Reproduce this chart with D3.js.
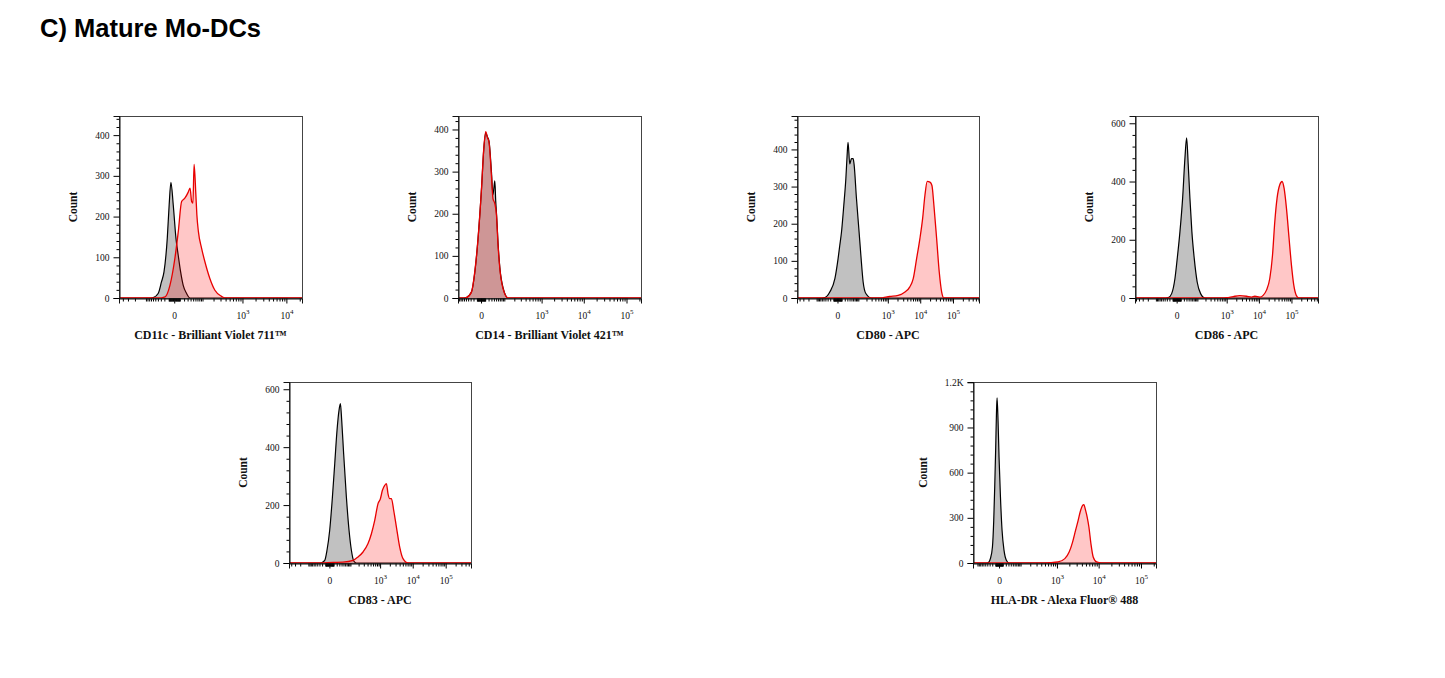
<!DOCTYPE html>
<html>
<head>
<meta charset="utf-8">
<script src="https://cdn.jsdelivr.net/npm/d3@7"></script>
<style>
  body { margin: 0; background: #fff; }
  svg { display: block; }
  text { font-family: "Liberation Serif", "DejaVu Serif", serif; fill: #111; }
</style>
</head>
<body>
<svg id="chart" width="1445" height="678"></svg>
<script>
// Histograms: [fluorescence, count]
// grey = unstained / isotype control, red = stained
const cd11cControl = [[-70,0],[-59,1],[-39,11],[-28,40],[-21,64],[-13,147],[-9,229],[-5.6,284],[-1.6,229],[2.8,147],[6.9,105],[11.8,64],[17.8,31],[27,11],[38,0]];
const cd11cStained = [[-40,0],[-18,3],[-7.5,31],[1,97],[7,163],[14,237],[22,245],[32,260],[38,270],[44,237],[49,233],[54,328],[62,254],[67,204],[75,163],[94,122],[117,89],[160,48],[217,19],[318,4],[383,0]];

const cd14Control = [[-60,0],[-48,1],[-27,14],[-16,60],[-7,140],[1,258],[6.3,352],[11.5,392],[16.5,382],[21.5,372],[30,300],[36,245],[40,262],[44,278],[48,232],[52,200],[60,130],[70,72],[91,24],[132,0]];
const cd14Stained = [[-60,0],[-48,1],[-27,14],[-16,62],[-7,141],[1,259],[6.3,354],[11.5,395],[16.5,381],[21.5,370],[30,291],[36,236],[44,224],[52,196],[60,125],[70,70],[91,22],[132,0]];

const cd80Control = [[-60,0],[-43,1],[-21.5,16],[-6,52],[1.3,106],[5.3,142],[9.7,177],[16.7,249],[24,321],[29,384],[33,419],[41,361],[50,375],[60,375],[66,361],[84,267],[107,177],[125,115],[152,43],[190,12],[298,0]];
const cd80Stained = [[600,0],[711,1],[1150,4],[2100,7],[3400,16],[4800,30],[6100,52],[7750,106],[9770,160],[11800,213],[13900,276],[16400,314],[19800,312],[22800,303],[26200,249],[31700,160],[38100,70],[45200,16],[53000,0]];

const cd86Control = [[-35,0],[-24,1],[-12.7,15],[-3.8,67],[1.3,136],[7.9,228],[15.8,343],[23.9,481],[30.7,550],[38,458],[46.6,343],[58,228],[74,136],[98,55],[133,15],[191,0]];
const cd86Stained = [[700,0],[990,1],[1600,5],[2580,8],[4160,6],[5930,3],[7490,6],[10700,3],[13500,9],[17100,27],[21600,67],[26200,147],[30800,262],[36200,343],[43800,389],[51500,400],[59400,377],[70300,308],[84500,205],[100000,113],[118000,44],[142000,8],[168000,0]];

const cd83Control = [[-32,0],[-22,1],[-11.6,9],[-5.5,44],[0.6,113],[7,228],[13.5,343],[21,458],[28.6,527],[34.6,550],[40.8,492],[51,377],[68,228],[88,113],[109,44],[134,7],[167,0]];
const cd83Stained = [[-29,0],[8.6,2],[47,3],[126,9],[191,21],[283,38],[414,67],[532,101],[678,147],[861,205],[1023,222],[1182,251],[1392,268],[1569,274],[1761,239],[1983,222],[2241,222],[2631,182],[3186,124],[4017,55],[5064,15],[7200,0]];

const hladrControl = [[-45,0],[-37,1],[-27,29],[-19.4,106],[-15,283],[-11.9,504],[-8.9,769],[-6.8,991],[-5.1,1097],[-2.5,946],[0,703],[3.6,438],[8,217],[14,84],[22,18],[32,0]];
const hladrStained = [[366,0],[663,2],[1067,7],[1557,29],[1980,73],[2394,139],[2822,217],[3258,283],[3722,349],[4154,383],[4455,388],[4900,349],[5342,305],[5873,239],[6552,129],[7425,40],[8933,7],[11760,0]];

const axisTitles = [
  "CD11c - Brilliant Violet 711™",
  "CD14 - Brilliant Violet 421™",
  "CD80 - APC",
  "CD86 - APC",
  "CD83 - APC",
  "HLA-DR - Alexa Fluor® 488"
];
const yTickSteps = [100, 100, 100, 200, 200, 300];
const xLabelValues = [0, 1e3, 1e4, 1e5];

// layout of each panel (frame box, scale settings)
const layout = [
  { l: 119, r: 302, t: 116, b: 298, yMax: 447, c: 30, xDom: [-495, 22500], countGap: 42 },
  { l: 458, r: 641, t: 116, b: 298, yMax: 432, c: 40, xDom: [-98, 218000], countGap: 42 },
  { l: 797, r: 979, t: 116, b: 298, yMax: 490, c: 30, xDom: [-485, 622000], countGap: 42 },
  { l: 1135, r: 1318, t: 116, b: 298, yMax: 625, c: 30, xDom: [-539, 653000], countGap: 42 },
  { l: 289, r: 471, t: 382, b: 563, yMax: 625, c: 30, xDom: [-473, 585000], countGap: 42 },
  { l: 973, r: 1156, t: 382, b: 563, yMax: 1202, c: 45, xDom: [-140, 226000], countGap: 46 }
];

const series = [
  [cd11cControl, cd11cStained],
  [cd14Control, cd14Stained],
  [cd80Control, cd80Stained],
  [cd86Control, cd86Stained],
  [cd83Control, cd83Stained],
  [hladrControl, hladrStained]
];

const svg = d3.select("#chart");

svg.append("text")
  .attr("x", 40)
  .attr("y", 37)
  .style("font-family", "'Liberation Sans', Arial, sans-serif")
  .style("font-weight", "bold")
  .style("font-size", "25.5px")
  .style("fill", "#000")
  .text("C) Mature Mo-DCs");

layout.forEach((p, i) => {
  const g = svg.append("g");
  const x = d3.scaleSymlog().constant(p.c).domain(p.xDom).range([p.l, p.r]);
  const y = d3.scaleLinear().domain([0, p.yMax]).range([p.b, p.t]);

  g.append("clipPath").attr("id", "clip" + i)
    .append("rect")
    .attr("x", p.l).attr("y", p.t)
    .attr("width", p.r - p.l).attr("height", p.b - p.t + 1);

  const plot = g.append("g").attr("clip-path", `url(#clip${i})`);

  // pad each histogram with zero counts out to the axis ends
  const full = s => [[p.xDom[0], 0], ...s, [p.xDom[1], 0]];

  const area = d3.area()
    .x(d => x(d[0]))
    .y0(y(0))
    .y1(d => y(d[1]))
    .curve(d3.curveMonotoneX);
  const line = d3.line()
    .x(d => x(d[0]))
    .y(d => y(d[1]))
    .curve(d3.curveMonotoneX);

  const [ctrl, stain] = series[i];

  plot.append("path").datum(full(ctrl))
    .attr("d", area).attr("fill", "rgba(100,100,100,0.4)");
  plot.append("path").datum(full(ctrl))
    .attr("d", line).attr("fill", "none").attr("stroke", "#000").attr("stroke-width", 1.2);
  plot.append("path").datum(full(stain))
    .attr("d", area).attr("fill", "rgba(255,0,0,0.22)");
  plot.append("path").datum(full(stain))
    .attr("d", line).attr("fill", "none").attr("stroke", "#e80000").attr("stroke-width", 1.3);

  // frame
  g.append("rect")
    .attr("x", p.l + 0.5).attr("y", p.t + 0.5)
    .attr("width", p.r - p.l).attr("height", p.b - p.t)
    .attr("fill", "none").attr("stroke", "#444").attr("stroke-width", 1);

  // y axis
  const step = yTickSteps[i];
  const yMajor = d3.range(0, p.yMax + 1, step);
  const yMinor = d3.range(0, p.yMax + 1, step / 5).filter(v => v % step !== 0);
  g.append("g").attr("transform", `translate(${p.l + 0.5},0)`)
    .call(d3.axisLeft(y).tickValues(yMinor).tickSize(3).tickFormat(""))
    .call(a => a.select(".domain").remove());
  g.append("g").attr("transform", `translate(${p.l + 0.5},0)`)
    .call(d3.axisLeft(y).tickValues(yMajor).tickSize(6).tickPadding(4)
      .tickFormat(v => v >= 1000 ? (v / 1000) + "K" : v))
    .call(a => a.select(".domain").attr("stroke", "#111"))
    .call(a => a.selectAll("text").style("font-size", "9.5px").style("fill", "#111")
      .style("font-family", "'Liberation Serif', serif"));

  // x axis (biexponential-like)
  const minor = [];
  for (let k = 0; k <= 6; k++) {
    for (let m = 1; m <= 9; m++) {
      minor.push(m * Math.pow(10, k), -m * Math.pow(10, k));
    }
  }
  const xMinor = minor.filter(v => v > p.xDom[0] && v < p.xDom[1] && !xLabelValues.includes(v));
  const xMajor = xLabelValues.filter(v => v >= p.xDom[0] && v <= p.xDom[1]);

  g.append("g").attr("transform", `translate(0,${p.b + 0.5})`)
    .call(d3.axisBottom(x).tickValues(xMinor).tickSize(3).tickFormat(""))
    .call(a => a.select(".domain").remove());
  g.append("g").attr("transform", `translate(0,${p.b + 0.5})`)
    .call(d3.axisBottom(x).tickValues(xMajor).tickSize(5).tickFormat(""))
    .call(a => a.select(".domain").attr("stroke", "#111"))
    .call(a => a.selectAll(".tick").append("text")
      .attr("y", 20)
      .attr("text-anchor", "middle")
      .style("font-size", "9.5px")
      .style("fill", "#111")
      .each(function (v) {
        const t = d3.select(this);
        if (v === 0) {
          t.text("0");
        } else {
          t.append("tspan").text("10");
          t.append("tspan").attr("dy", -5).style("font-size", "7px").text(Math.round(Math.log10(v)));
        }
      }));

  // axis titles
  g.append("text")
    .attr("x", (p.l + p.r) / 2)
    .attr("y", p.b + 41)
    .attr("text-anchor", "middle")
    .style("font-size", "12px")
    .style("font-weight", "bold")
    .text(axisTitles[i]);

  g.append("text")
    .attr("transform", `translate(${p.l - p.countGap},${(p.t + p.b) / 2}) rotate(-90)`)
    .attr("text-anchor", "middle")
    .style("font-size", "11.5px")
    .style("font-weight", "bold")
    .text("Count");
});
</script>
</body>
</html>
